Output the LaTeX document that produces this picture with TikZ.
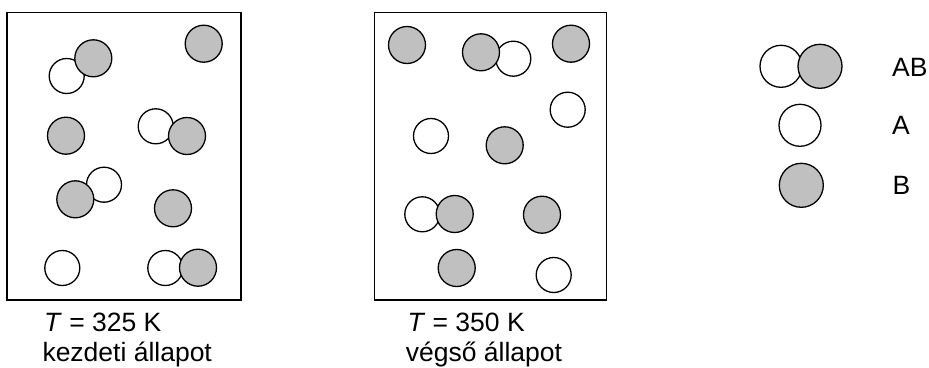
\documentclass[tikz,border=0pt]{standalone}
\usepackage{fontspec}
\setmainfont{Liberation Sans}
\definecolor{molgray}{RGB}{192,192,192}
\begin{document}
\begin{tikzpicture}[x=1pt,y=-1pt,
  wA/.style={circle,draw,line width=1.3pt,fill=white,minimum size=35pt,inner sep=0pt},
  gB/.style={circle,draw,line width=1.3pt,fill=molgray,minimum size=37pt,inner sep=0pt},
  lwA/.style={wA,minimum size=42pt},
  lgB/.style={gB,minimum size=44pt},
  boxst/.style={draw,line width=1.2pt},
  lbl/.style={anchor=base west,inner sep=0pt,font=\fontsize{26.5}{31}\selectfont}]
\useasboundingbox (0,0) rectangle (929,367);
% boxes
\draw[boxst] (7,12.3) rectangle (241,300);
\draw[boxst] (374.3,12.3) rectangle (606.3,300);
% left box
\node[wA] (l1) at (66.7,76) {};
\node[gB] (l2) at (93.3,58.3) {};
\node[gB] (l3) at (203.7,43.7) {};
\node[gB] (l4) at (66,135.7) {};
\node[wA] (l5) at (155.7,126.3) {};
\node[gB] (l6) at (187,136) {};
\node[wA] (l7) at (104,184.7) {};
\node[gB] (l8) at (75.3,199.3) {};
\node[gB] (l9) at (173,208.3) {};
\node[wA] (l10) at (62.3,268) {};
\node[wA] (l11) at (165.3,268) {};
\node[gB] (l12) at (198,267.7) {};
% right box
\node[gB] (r1) at (407,45) {};
\node[wA] (r3) at (513.3,58.7) {};
\node[gB] (r2) at (481,52.3) {};
\node[gB] (r4) at (571,43.7) {};
\node[wA] (r5) at (567.7,109.7) {};
\node[wA] (r6) at (431,136) {};
\node[gB] (r7) at (504.7,145.3) {};
\node[wA] (r8) at (422.3,214.3) {};
\node[gB] (r9) at (454.7,214) {};
\node[gB] (r10) at (542,214.7) {};
\node[gB] (r11) at (456.7,268) {};
\node[wA] (r12) at (553.7,275) {};
% legend
\node[lwA] (kA1) at (781,66.3) {};
\node[lgB] (kB1) at (820,66.3) {};
\node[lwA] (kA) at (800,125.3) {};
\node[lgB] (kB) at (801.3,185.3) {};
\node[lbl] (tAB) at (892,76.5) {AB};
\node[lbl] (tA) at (892,134.5) {A};
\node[lbl] (tB) at (892.5,194.5) {B};
% captions
\node[lbl] (c1) at (44,331.7) {\textit{T} = 325 K};
\node[lbl] (c2) at (42.3,361.7) {kezdeti állapot};
\node[lbl] (c3) at (407.3,331.7) {\textit{T} = 350 K};
\node[lbl] (c4) at (405.7,361.7) {végső állapot};
\end{tikzpicture}
\end{document}
